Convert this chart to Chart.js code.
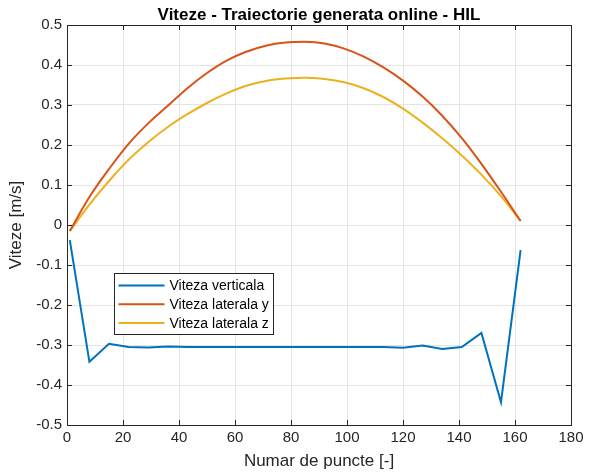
<!DOCTYPE html>
<html>
<head>
<meta charset="utf-8">
<script src="https://cdn.jsdelivr.net/npm/chart.js@4.4.0/dist/chart.umd.min.js"></script>
<style>
  html, body { margin: 0; padding: 0; background: #fff; }
  #wrap { width: 593px; height: 476px; }
</style>
</head>
<body>
<div id="wrap"><canvas id="myChart" width="593" height="476"></canvas></div>
<script>
// numar de puncte (x)
var puncte = [1, 8, 15, 22, 29, 36, 43, 50, 57, 64, 71, 78, 85, 92, 99, 106, 113, 120, 127, 134, 141, 148, 155, 162];

// viteze
var viteza_verticala = [-0.038, -0.342, -0.297, -0.305, -0.306, -0.304, -0.305, -0.305, -0.305, -0.305, -0.305, -0.305, -0.305, -0.305, -0.305, -0.305, -0.305, -0.307, -0.301, -0.310, -0.305, -0.270, -0.443, -0.063];
var viteza_laterala_y = [-0.015, 0.070, 0.140, 0.203, 0.254, 0.298, 0.342, 0.380, 0.411, 0.433, 0.448, 0.456, 0.458, 0.454, 0.441, 0.421, 0.394, 0.361, 0.321, 0.273, 0.217, 0.153, 0.083, 0.010];
var viteza_laterala_z = [-0.015, 0.051, 0.110, 0.163, 0.207, 0.245, 0.277, 0.305, 0.329, 0.348, 0.360, 0.366, 0.368, 0.365, 0.357, 0.342, 0.320, 0.291, 0.256, 0.217, 0.174, 0.126, 0.072, 0.010];

var etichete = ["Viteza verticala", "Viteza laterala y", "Viteza laterala z"];
var culori = ["#0072BD", "#D95319", "#EDB120"];
var titlu = "Viteze - Traiectorie generata online - HIL";

function puncteXY(vals) {
    var out = [];
    for (let k = 0; k < vals.length; k++) {
        out.push({x: puncte[k], y: vals[k]});
    }
    return out;
}

var font = "'Liberation Sans', Arial, Helvetica, sans-serif";

// titlu + chenar + tick-uri spre interior (stil matlab) + legenda
var chenar = {
    id: "chenar",
    afterDraw: function(chart) {
        var ctx = chart.ctx;
        var a = chart.chartArea;
        var sx = chart.scales.x, sy = chart.scales.y;
        ctx.save();

        // titlu centrat pe zona graficului
        ctx.fillStyle = "#000";
        ctx.font = "bold 17px " + font;
        ctx.textAlign = "center";
        ctx.textBaseline = "alphabetic";
        ctx.fillText(titlu, (a.left + a.right) / 2, 20);

        ctx.strokeStyle = "#262626";
        ctx.lineWidth = 1;
        ctx.beginPath();
        sx.ticks.forEach(function(t) {
            var px = Math.round(sx.getPixelForValue(t.value)) + 0.5;
            ctx.moveTo(px, a.bottom); ctx.lineTo(px, a.bottom - 5);
            ctx.moveTo(px, a.top); ctx.lineTo(px, a.top + 5);
        });
        sy.ticks.forEach(function(t) {
            var py = Math.round(sy.getPixelForValue(t.value)) + 0.5;
            ctx.moveTo(a.left, py); ctx.lineTo(a.left + 5, py);
            ctx.moveTo(a.right, py); ctx.lineTo(a.right - 5, py);
        });
        ctx.stroke();
        ctx.strokeRect(Math.round(a.left) + 0.5, Math.round(a.top) + 0.5, Math.round(a.right - a.left), Math.round(a.bottom - a.top));

        // legenda
        var x0 = Math.round(a.left) + 47.5, y0 = Math.round(a.top) + 248.5;
        var w = 159, h = 61;
        ctx.fillStyle = "#fff";
        ctx.fillRect(x0, y0, w, h);
        ctx.strokeStyle = "#262626";
        ctx.strokeRect(x0, y0, w, h);
        ctx.font = "14px " + font;
        ctx.textBaseline = "middle";
        ctx.textAlign = "left";
        chart.data.datasets.forEach(function(ds, n) {
            var ly = y0 + 12 + n * 18.7;
            ctx.strokeStyle = ds.borderColor;
            ctx.lineWidth = 2;
            ctx.beginPath();
            ctx.moveTo(x0 + 4, ly); ctx.lineTo(x0 + 50, ly);
            ctx.stroke();
            ctx.fillStyle = "#000";
            ctx.fillText(ds.label, x0 + 55, ly + 1);
        });
        ctx.restore();
    }
};

var seturi = [viteza_verticala, viteza_laterala_y, viteza_laterala_z];
var datasets = [];
for (let j = 0; j < seturi.length; j++) {
    datasets.push({
        label: etichete[j],
        data: puncteXY(seturi[j]),
        borderColor: culori[j],
        backgroundColor: culori[j],
        borderWidth: 2,
        pointRadius: 0,
        fill: false,
        cubicInterpolationMode: j == 0 ? "default" : "monotone",
        tension: 0
    });
}

const canvas = document.getElementById("myChart");
const chart = new Chart(canvas, {
    type: "line",
    data: { datasets: datasets },
    plugins: [chenar],
    options: {
        responsive: false,
        animation: false,
        devicePixelRatio: 1,
        layout: { padding: { left: 0, right: 22, top: 25, bottom: 0 } },
        plugins: {
            legend: { display: false },
            tooltip: { enabled: false },
            title: { display: false }
        },
        scales: {
            x: {
                type: "linear",
                min: 0,
                max: 180,
                afterFit: function(s) { s.height = 51; },
                ticks: { stepSize: 20, color: "#262626", font: { family: font, size: 15 }, padding: 4, maxRotation: 0 },
                grid: { color: "#e3e3e3", drawTicks: false },
                border: { display: true, color: "#262626" },
                title: { display: true, text: "Numar de puncte [-]", color: "#262626", font: { family: font, size: 17 }, padding: { top: 0 } }
            },
            y: {
                type: "linear",
                min: -0.5,
                max: 0.5,
                afterFit: function(s) { s.width = 67; },
                ticks: {
                    stepSize: 0.1,
                    color: "#262626",
                    font: { family: font, size: 15 },
                    padding: 5,
                    callback: function(v) {
                        if (Math.abs(v) < 1e-9) return "0";
                        return v.toFixed(1);
                    }
                },
                grid: { color: "#e3e3e3", drawTicks: false },
                border: { display: true, color: "#262626" },
                title: { display: true, text: "Viteze [m/s]", color: "#262626", font: { family: font, size: 17 }, padding: { top: 6, bottom: 0 } }
            }
        }
    }
});
</script>
</body>
</html>
